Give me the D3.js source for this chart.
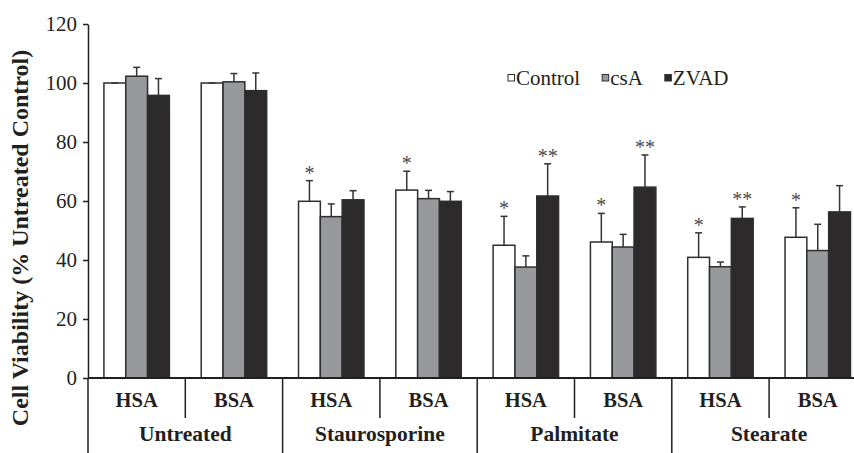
<!DOCTYPE html>
<html>
<head>
<meta charset="utf-8">
<script src="https://cdn.jsdelivr.net/npm/d3@7"></script>
<style>
  body { margin: 0; background: #fff; }
</style>
</head>
<body>
<div id="chart"></div>
<script>
// ---------- data ----------
const categories = ["Untreated", "Staurosporine", "Palmitate", "Stearate"];
const carriers = ["HSA", "BSA"];
const series = ["Control", "csA", "ZVAD"];

// one value per category x carrier (HSA, BSA, HSA, BSA, ...)
const controlValues = [100, 100, 59.9, 63.7, 45.0, 46.1, 40.9, 47.7];
const controlErrors = [0, 0, 7.0, 6.4, 9.8, 9.7, 8.3, 10.0];
const csAValues = [102.3, 100.4, 54.7, 60.8, 37.6, 44.4, 37.7, 43.2];
const csAErrors = [3.0, 2.8, 4.3, 2.8, 3.8, 4.3, 1.6, 8.9];
const zvadValues = [95.8, 97.4, 60.4, 59.9, 61.7, 64.7, 54.1, 56.3];
const zvadErrors = [5.7, 6.0, 3.1, 3.3, 10.9, 10.9, 3.9, 8.9];

const controlMarks = ["", "", "*", "*", "*", "*", "*", "*"];
const csAMarks = ["", "", "", "", "", "", "", ""];
const zvadMarks = ["", "", "", "", "**", "**", "**", ""];

const yTicks = [0, 20, 40, 60, 80, 100, 120];

// ---------- layout ----------
const width = 854, height = 453;
const x0 = 88, x1 = 866.4;      // last category runs past the picture edge
const yBase = 378, yTop = 24;
const ink = "#231f20";
const serif = "Liberation Serif";
const fills = ["#ffffff", "#98999d", "#2c2a2b"];

const svg = d3.select("#chart").append("svg")
    .attr("width", width)
    .attr("height", height)
    .attr("font-family", serif);

// sub-group keys
const groups = [];
categories.forEach(c => carriers.forEach(k => groups.push({ category: c, carrier: k, key: c + "|" + k })));

const rows = groups.map((g, i) => ({
    ...g,
    bars: [
        { s: series[0], v: controlValues[i], e: controlErrors[i], m: controlMarks[i] },
        { s: series[1], v: csAValues[i], e: csAErrors[i], m: csAMarks[i] },
        { s: series[2], v: zvadValues[i], e: zvadErrors[i], m: zvadMarks[i] }
    ]
}));

// ---------- scales ----------
const xCat = d3.scaleBand().domain(categories).range([x0, x1]).padding(0);
const xGroup = d3.scaleBand().domain(groups.map(g => g.key)).range([x0, x1]).padding(0);
const xSeries = d3.scaleBand().domain(series).range([0, xGroup.bandwidth()])
    .paddingInner(0).paddingOuter(0.73);
const y = d3.scaleLinear().domain([0, 120]).range([yBase, yTop]);
const color = d3.scaleOrdinal().domain(series).range(fills);

// ---------- bars ----------
const groupSel = svg.append("g").selectAll("g")
    .data(rows)
    .join("g")
    .attr("transform", d => `translate(${xGroup(d.key)},0)`);

groupSel.selectAll("rect")
    .data(d => d.bars)
    .join("rect")
    .attr("x", d => xSeries(d.s))
    .attr("y", d => y(d.v))
    .attr("width", xSeries.bandwidth())
    .attr("height", d => yBase - y(d.v))
    .attr("fill", d => color(d.s))
    .attr("stroke", "#2e2e2e")
    .attr("stroke-width", 1.5);

// error bars (upper only)
const errG = groupSel.selectAll("g.err")
    .data(d => d.bars)
    .join("g")
    .attr("class", "err")
    .attr("stroke", "#333")
    .attr("stroke-width", 1.5);

errG.append("line")
    .attr("x1", d => xSeries(d.s) + xSeries.bandwidth() / 2)
    .attr("x2", d => xSeries(d.s) + xSeries.bandwidth() / 2)
    .attr("y1", d => y(d.v))
    .attr("y2", d => y(d.v + d.e));

errG.append("line")
    .attr("x1", d => xSeries(d.s) + xSeries.bandwidth() / 2 - 3.5)
    .attr("x2", d => xSeries(d.s) + xSeries.bandwidth() / 2 + 3.5)
    .attr("y1", d => y(d.v + d.e))
    .attr("y2", d => y(d.v + d.e));

// significance marks
groupSel.selectAll("text.sig")
    .data(d => d.bars.filter(b => b.m))
    .join("text")
    .attr("class", "sig")
    .attr("x", d => xSeries(d.s) + xSeries.bandwidth() / 2)
    .attr("y", d => y(d.v + d.e) - 1)
    .attr("text-anchor", "middle")
    .attr("font-family", serif)
    .attr("font-size", 20)
    .attr("fill", "#4a4a4a")
    .text(d => d.m);

// ---------- y axis ----------
const yAxis = svg.append("g")
    .attr("transform", `translate(${x0},0)`)
    .call(d3.axisLeft(y).tickValues(yTicks).tickSize(5).tickPadding(6).tickSizeOuter(0));
yAxis.attr("font-family", serif).attr("font-size", 21);
yAxis.select(".domain").attr("stroke", ink).attr("stroke-width", 1.5);
yAxis.selectAll(".tick line").attr("stroke", ink).attr("stroke-width", 1.5);
yAxis.selectAll(".tick text").attr("fill", ink);

svg.append("text")
    .attr("transform", `translate(28, ${(yBase + yTop) / 2 + 37}) rotate(-90)`)
    .attr("text-anchor", "middle")
    .attr("font-family", serif)
    .attr("font-size", 24)
    .attr("font-weight", "bold")
    .attr("fill", ink)
    .text("Cell Viability (% Untreated Control)");

// ---------- x axis ----------
svg.append("line")
    .attr("x1", x0).attr("x2", width)
    .attr("y1", yBase).attr("y2", yBase)
    .attr("stroke", ink).attr("stroke-width", 2);

// short dividers between carriers
svg.append("g").selectAll("line")
    .data(categories)
    .join("line")
    .attr("x1", d => xCat(d) + xCat.bandwidth() / 2)
    .attr("x2", d => xCat(d) + xCat.bandwidth() / 2)
    .attr("y1", yBase).attr("y2", 418)
    .attr("stroke", ink).attr("stroke-width", 1.5);

// long dividers between categories
svg.append("g").selectAll("line")
    .data(categories)
    .join("line")
    .attr("x1", d => xCat(d))
    .attr("x2", d => xCat(d))
    .attr("y1", yBase).attr("y2", height)
    .attr("stroke", ink).attr("stroke-width", 1.5);

// carrier labels
svg.append("g").selectAll("text")
    .data(groups)
    .join("text")
    .attr("x", d => xGroup(d.key) + xGroup.bandwidth() / 2)
    .attr("y", 407)
    .attr("text-anchor", "middle")
    .attr("font-family", serif)
    .attr("font-size", 20.5)
    .attr("font-weight", "bold")
    .attr("fill", ink)
    .text(d => d.carrier);

// category labels
svg.append("g").selectAll("text")
    .data(categories)
    .join("text")
    .attr("x", d => xCat(d) + xCat.bandwidth() / 2)
    .attr("y", 441)
    .attr("text-anchor", "middle")
    .attr("font-family", serif)
    .attr("font-size", 21.5)
    .attr("font-weight", "bold")
    .attr("fill", ink)
    .text(d => d);

// ---------- legend ----------
const legend = svg.append("g").attr("transform", "translate(508, 78)");
let lx = 0;
series.forEach(s => {
    legend.append("rect")
        .attr("x", lx).attr("y", -3.5)
        .attr("width", 6.5).attr("height", 6.5)
        .attr("fill", color(s))
        .attr("stroke", "#2e2e2e")
        .attr("stroke-width", 1);
    const t = legend.append("text")
        .attr("x", lx + 8)
        .attr("y", 6.5)
        .attr("font-family", serif)
        .attr("font-size", 21)
        .attr("fill", ink)
        .text(s);
    lx += 8 + t.node().getComputedTextLength() + 22;
});
</script>
</body>
</html>
